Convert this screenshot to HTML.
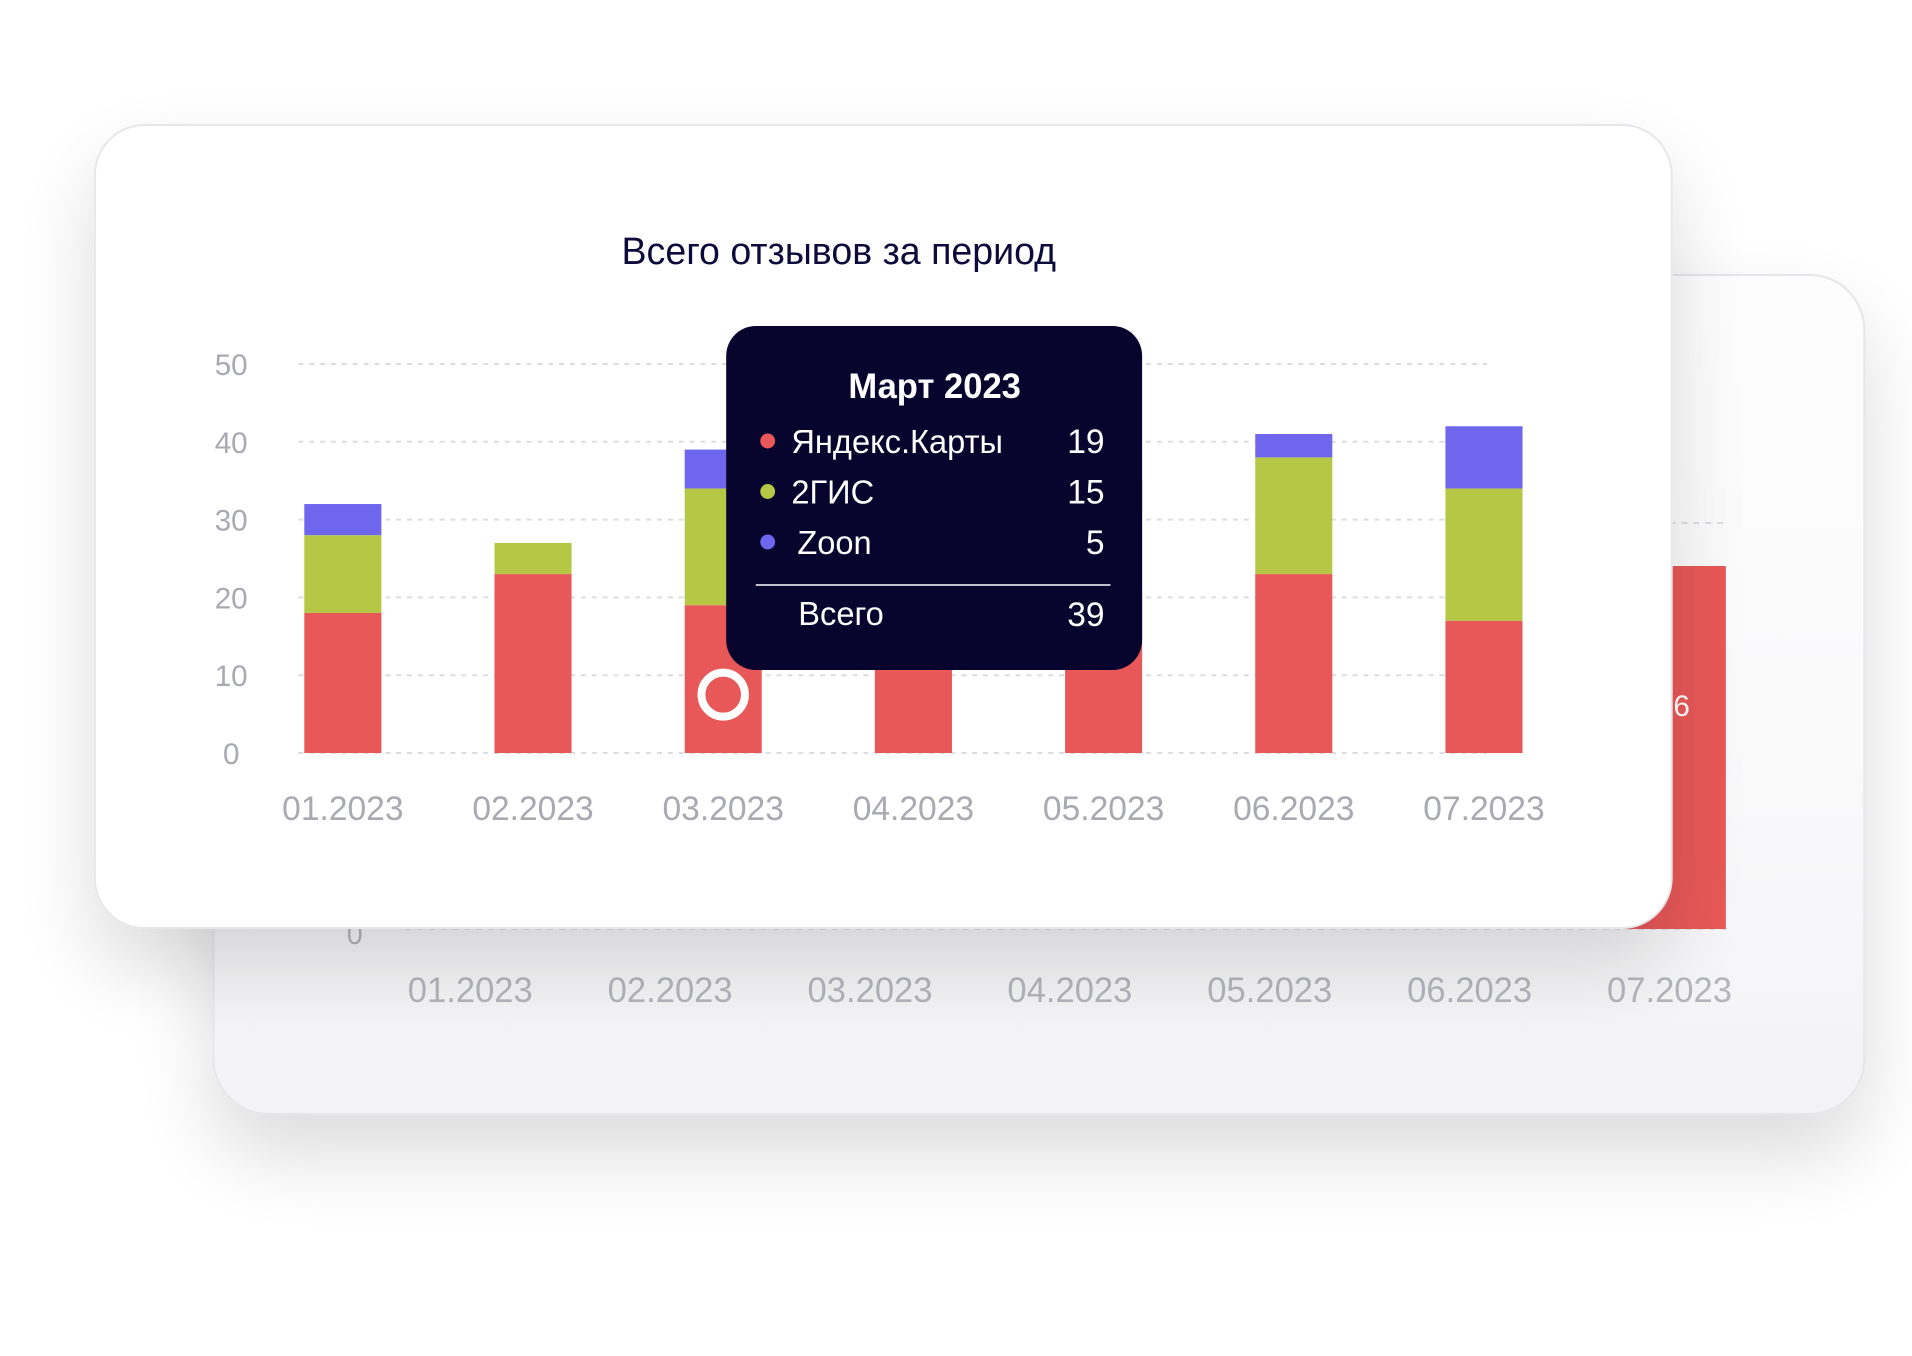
<!DOCTYPE html>
<html><head><meta charset="utf-8">
<style>
html,body{margin:0;padding:0;background:#fff;width:1912px;height:1356px;overflow:hidden;font-family:"Liberation Sans","DejaVu Sans",sans-serif}
svg{display:block}
</style></head>
<body>
<svg id="root" width="1912" height="1356" viewBox="0 0 1912 1356">
<defs>
<filter id="sh" x="-20%" y="-20%" width="140%" height="160%">
<feGaussianBlur in="SourceAlpha" stdDeviation="40"/>
<feOffset dy="40" dx="0"/>
<feComponentTransfer><feFuncA type="linear" slope="0.14"/></feComponentTransfer>
<feMerge><feMergeNode/><feMergeNode in="SourceGraphic"/></feMerge>
</filter>
<linearGradient id="bg2" x1="0" y1="0" x2="0" y2="1">
<stop offset="0" stop-color="#fdfdfd"/><stop offset="0.55" stop-color="#fafafb"/><stop offset="1" stop-color="#f3f3f6"/>
</linearGradient>
</defs>
<g transform="scale(0.988,1)">
<g id="back">
<rect x="216" y="275" width="1671" height="839" rx="55" fill="url(#bg2)" stroke="#e4e6ea" stroke-width="2" filter="url(#sh)"/>
</g>
<g id="front">
<rect x="96" y="125" width="1596" height="803" rx="50" fill="#fff" stroke="#e6e7ea" stroke-width="2" filter="url(#sh)"/>
<text x="849" y="264" text-anchor="middle" font-size="38" fill="#0d0b3b">Всего отзывов за период</text>
</g>
</g>
</svg>
<script>
// Front chart data
const categories = ["01.2023","02.2023","03.2023","04.2023","05.2023","06.2023","07.2023"];
const yandex = [18, 23, 19, 20, 21, 23, 17];
const gis = [10, 4, 15, 10, 10, 15, 17];
const zoon = [4, 0, 5, 5, 4, 3, 8];
const yTicks = [0, 10, 20, 30, 40, 50];
const seriesNames = ["Яндекс.Карты", "2ГИС", "Zoon"];
const tooltipIndex = 2;
const tooltipTitle = "Март 2023";
// Back chart data
const backCategories = ["01.2023","02.2023","03.2023","04.2023","05.2023","06.2023","07.2023"];
const backValues = [0, 0.3, 0, 0.3, 0.3, 0.3, 46];
const backLabel = "6";

const NS = "http://www.w3.org/2000/svg";
function mk(tag, attrs, parent){const e=document.createElementNS(NS,tag);for(const k in attrs)e.setAttribute(k,attrs[k]);parent.appendChild(e);return e;}
const back = document.getElementById('back');
const front = document.getElementById('front');
const colors = ["#e85858","#b5c744","#6f66ee"];

// back chart axes
const bY0 = 929, bYScale = (929-566)/46;
const bx = i => 476 + i*202.3;
const by = v => bY0 - v*bYScale;
const bz = mk('line',{x1:410,x2:1750,y1:bY0,y2:bY0,stroke:'#dcdde2','stroke-width':2,'stroke-dasharray':'6 6'},back);


const bg = mk('line',{x1:1690,x2:1750,y1:523,y2:523,stroke:'#dcdde2','stroke-width':2,'stroke-dasharray':'6 6'},back);


const b0 = mk('text',{x:359,y:944,'text-anchor':'middle','font-size':29,fill:'#b4b5bc'},back);
b0.textContent='0';


backValues.forEach((v,i)=>{
  const r = mk('rect',{x:bx(i)-57,y:by(v),width:114,height:bY0-by(v),fill:colors[0]},back);
  
  
});
backCategories.forEach((c,i)=>{
  const t = mk('text',{x:bx(i),y:1002,'text-anchor':'middle','font-size':35,fill:'#b4b5bc'},back);
  t.textContent=c;
  
  
});
const bl = mk('text',{x:1702,y:716,'text-anchor':'middle','font-size':30,fill:'#fff'},back);
bl.textContent=backLabel;



// front chart axes
const Y0 = 753, YTOP = 364, YMAX = 50;
const y = v => Y0 - v*(Y0-YTOP)/YMAX;
const x = i => 347 + i*192.5;
const BW = 78;
yTicks.forEach(v=>{
  const g = mk('line',{x1:302,x2:1505,y1:y(v),y2:y(v),stroke:'#dcdde2','stroke-width':2,'stroke-dasharray':'5 6'},front);
  
  
  const t = mk('text',{x:234,y:y(v)+11,'text-anchor':'middle','font-size':30,fill:'#a8a9b1'},front);
  t.textContent=v;
  
  
});
categories.forEach((c,i)=>{
  let base=0;
  [yandex[i],gis[i],zoon[i]].forEach((v,s)=>{
    if(v<=0) return;
    const r = mk('rect',{x:x(i)-BW/2,y:y(base+v),width:BW,height:y(base)-y(base+v),fill:colors[s]},front);
    
    
    base+=v;
  });
  const t = mk('text',{x:x(i),y:820,'text-anchor':'middle','font-size':34,fill:'#a8a9b1'},front);
  t.textContent=c;
  
  
});
// hover marker
const mkr = mk('circle',{cx:x(tooltipIndex),cy:y(7.5),r:22,fill:'none',stroke:'#fff','stroke-width':8},front);



// tooltip
const tip = mk('g',{},front);


const tb = mk('rect',{x:735,y:326,width:421,height:344,rx:30,fill:'#07042e'},tip);


const tt = mk('text',{x:946,y:398,'text-anchor':'middle','font-size':35,'font-weight':'bold',fill:'#fff'},tip);
tt.textContent=tooltipTitle;


const vals=[yandex[tooltipIndex],gis[tooltipIndex],zoon[tooltipIndex]];
vals.forEach((v,s)=>{
  const cy = 441 + s*50.5;
  const d = mk('circle',{cx:777,cy:cy,r:7.5,fill:colors[s]},tip);
  
  
  const l = mk('text',{x:s==2?807:801,y:cy+12,'font-size':33,fill:'#fff'},tip);
  l.textContent=seriesNames[s];
  
  
  const n = mk('text',{x:1118,y:cy+12,'text-anchor':'end','font-size':34,fill:'#fff'},tip);
  n.textContent=v;
  
  
});
const sep = mk('line',{x1:765,x2:1124,y1:585,y2:585,stroke:'#ffffff','stroke-width':1.5},tip);


const tl = mk('text',{x:808,y:625,'font-size':33,fill:'#fff'},tip);
tl.textContent='Всего';


const tv = mk('text',{x:1118,y:626,'text-anchor':'end','font-size':34,fill:'#fff'},tip);
tv.textContent=vals.reduce((a,b)=>a+b,0);


</script>
</body></html>
